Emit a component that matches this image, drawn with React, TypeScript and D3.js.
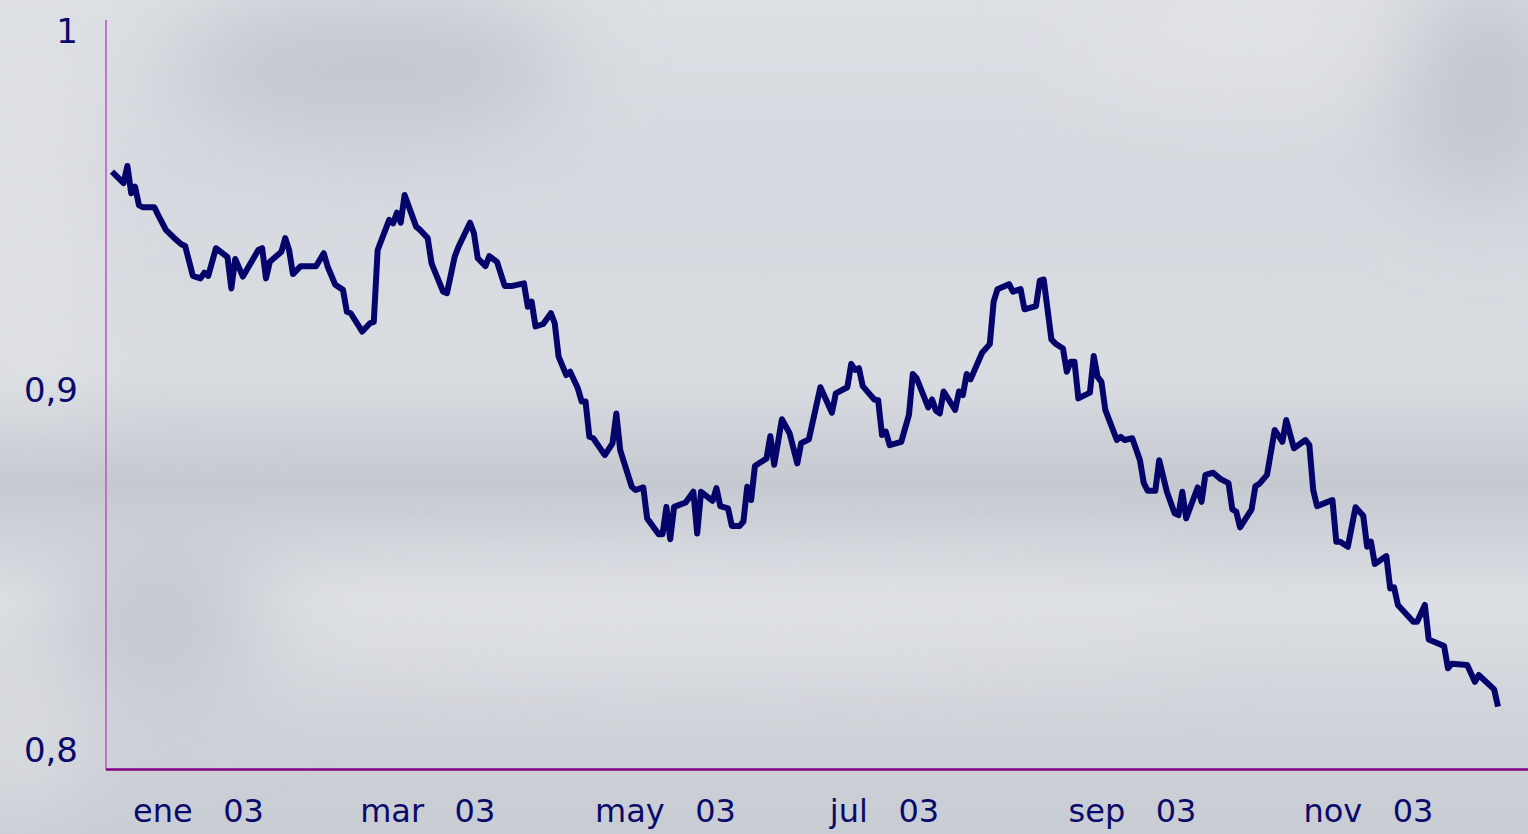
import React from 'react';
import * as d3 from 'd3';

// day of 2003 (0 = 1 Jan) for each quote
const days = [
  0, 3, 4, 5, 6, 7, 8, 11, 12, 14, 16, 18, 19, 21, 23, 24, 25, 27, 30, 31,
  32, 34, 38, 39, 40, 41, 44, 45, 46, 47, 49, 53, 55, 56, 58, 60, 61, 62, 65, 67,
  68, 69, 72, 73, 74, 75, 76, 79, 80, 82, 83, 86, 87, 89, 90, 93, 94, 95, 97, 98,
  100, 102, 104, 107, 108, 109, 110, 112, 114, 115, 116, 118, 119, 121, 122, 123, 124, 125, 128, 130,
  131, 132, 135, 136, 138, 139, 142, 143, 144, 145, 146, 149, 151, 152, 153, 156, 157, 158, 160, 161,
  163, 164, 165, 166, 167, 170, 171, 172, 174, 176, 178, 179, 181, 184, 187, 188, 191, 192, 193, 194,
  195, 198, 199, 200, 201, 202, 205, 207, 208, 209, 212, 213, 214, 215, 216, 219, 220, 221, 222, 223,
  226, 228, 229, 230, 233, 234, 236, 237, 240, 241, 242, 244, 245, 247, 248, 249, 250, 251, 254, 255,
  256, 257, 258, 261, 262, 263, 265, 267, 268, 269, 271, 272, 274, 276, 277, 278, 279, 282, 283, 284,
  286, 288, 290, 291, 292, 293, 296, 297, 298, 300, 302, 304, 305, 307, 310, 311, 312, 313, 317, 318,
  319, 321, 323, 325, 326, 327, 328, 331, 332, 333, 334, 338, 339, 341, 342, 346, 347, 348, 352, 354,
  355, 359, 360,
];

// exchange rate
const rates = [
  0.9607, 0.9575, 0.9623, 0.9547, 0.9565, 0.9514, 0.9508, 0.9508, 0.9486, 0.9445,
  0.9424, 0.9405, 0.9400, 0.9317, 0.9310, 0.9326, 0.9317, 0.9394, 0.9369, 0.9282,
  0.9364, 0.9315, 0.9389, 0.9394, 0.9310, 0.9356, 0.9384, 0.9422, 0.9389, 0.9322,
  0.9344, 0.9344, 0.9380, 0.9343, 0.9292, 0.9278, 0.9217, 0.9213, 0.9162, 0.9185,
  0.9189, 0.9389, 0.9473, 0.9463, 0.9493, 0.9465, 0.9542, 0.9454, 0.9445, 0.9422,
  0.9352, 0.9273, 0.9269, 0.9370, 0.9398, 0.9465, 0.9436, 0.9366, 0.9344, 0.9372,
  0.9356, 0.9289, 0.9289, 0.9296, 0.9231, 0.9245, 0.9176, 0.9183, 0.9213, 0.9185,
  0.9092, 0.9041, 0.9050, 0.9004, 0.8967, 0.8967, 0.8869, 0.8865, 0.8818, 0.8851,
  0.8934, 0.8832, 0.8730, 0.8721, 0.8728, 0.8642, 0.8598, 0.8598, 0.8674, 0.8584,
  0.8674, 0.8686, 0.8716, 0.8600, 0.8716, 0.8691, 0.8726, 0.8676, 0.8670, 0.8621,
  0.8621, 0.8633, 0.8730, 0.8693, 0.8788, 0.8809, 0.8871, 0.8791, 0.8918, 0.8879,
  0.8795, 0.8851, 0.8862, 0.9007, 0.8936, 0.8990, 0.9007, 0.9072, 0.9055, 0.9060,
  0.9010, 0.8973, 0.8971, 0.8874, 0.8883, 0.8846, 0.8855, 0.8930, 0.9044, 0.9032,
  0.8951, 0.8973, 0.8942, 0.8934, 0.8995, 0.8944, 0.8995, 0.8985, 0.9044, 0.9029,
  0.9103, 0.9127, 0.9245, 0.9280, 0.9294, 0.9273, 0.9280, 0.9224, 0.9233, 0.9304,
  0.9307, 0.9140, 0.9129, 0.9115, 0.9050, 0.9078, 0.9078, 0.8976, 0.8992, 0.9094,
  0.9036, 0.9022, 0.8944, 0.8860, 0.8869, 0.8860, 0.8865, 0.8804, 0.8740, 0.8719,
  0.8719, 0.8804, 0.8716, 0.8656, 0.8651, 0.8716, 0.8642, 0.8728, 0.8688, 0.8763,
  0.8769, 0.8751, 0.8740, 0.8667, 0.8661, 0.8617, 0.8667, 0.8732, 0.8738, 0.8763,
  0.8888, 0.8855, 0.8916, 0.8837, 0.8860, 0.8846, 0.8721, 0.8676, 0.8693, 0.8577,
  0.8577, 0.8563, 0.8673, 0.8649, 0.8563, 0.8577, 0.8515, 0.8537, 0.8447, 0.8450,
  0.8401, 0.8354, 0.8354, 0.8401, 0.8305, 0.8287, 0.8225, 0.8237, 0.8234, 0.8187,
  0.8206, 0.8166, 0.8118,
];

const labelMonths = [0, 2, 4, 6, 8, 10];
const monthNames = ['ene', 'mar', 'may', 'jul', 'sep', 'nov'];
const yearLabel = '03';
const yTicks = [0.8, 0.9, 1];
const yTickLabels = ['0,8', '0,9', '1'];

const W = 1528;
const H = 834;
const axisX = 106;
const axisTop = 20;
const axisBottom = 770;
const ink = '#0a0a6a';
const font = '"DejaVu Sans", sans-serif';

const App = () => {
  const x = d3.scaleUtc()
    .domain([new Date(Date.UTC(2003, 0, 1)), new Date(Date.UTC(2003, 11, 27))])
    .range([112, 1498]);

  const y = d3.scaleLinear()
    .domain([0.8, 1])
    .range([749, 30.5]);

  const points = days.map((d, i) => ({ date: new Date(Date.UTC(2003, 0, 1 + d)), value: rates[i] }));

  const linePath = d3.line<{ date: Date; value: number }>()
    .x(p => x(p.date))
    .y(p => y(p.value))(points) as string;

  return (
    <svg
      width={W}
      height={H}
      style={{ position: 'absolute', left: 0, top: 0, display: 'block' }}
    >
      <defs>
        <linearGradient id="bg" x1="0" y1="0" x2="0" y2="1">
          <stop offset="0" stopColor="#dcdfe4" />
          <stop offset="0.2" stopColor="#d6d9df" />
          <stop offset="0.45" stopColor="#d9dce1" />
          <stop offset="0.58" stopColor="#c5c9d0" />
          <stop offset="0.72" stopColor="#dcdfe4" />
          <stop offset="0.86" stopColor="#d0d3d9" />
          <stop offset="1" stopColor="#c8ccd3" />
        </linearGradient>
        <filter id="soft" x="-20%" y="-20%" width="140%" height="140%">
          <feGaussianBlur stdDeviation="45" />
        </filter>
      </defs>

      {/* background */}
      <rect width={W} height={H} fill="url(#bg)" />
      <g filter="url(#soft)">
        <ellipse cx={370} cy={70} rx={200} ry={70} fill="#c3c7ce" />
        <ellipse cx={1480} cy={90} rx={90} ry={110} fill="#c2c6cd" />
        <ellipse cx={1250} cy={40} rx={180} ry={50} fill="#e0e2e6" />
        <ellipse cx={30} cy={220} rx={50} ry={200} fill="#e0e2e6" />
        <ellipse cx={170} cy={620} rx={110} ry={90} fill="#c4c8cf" />
        <ellipse cx={700} cy={620} rx={500} ry={30} fill="#dfe1e5" />
        <ellipse cx={20} cy={740} rx={40} ry={80} fill="#dfe1e5" />
      </g>

      {/* axes */}
      <line x1={axisX} x2={axisX} y1={axisTop} y2={axisBottom} stroke="#b655c4" strokeWidth={1.5} />
      <line x1={axisX} x2={W} y1={axisBottom - 0.5} y2={axisBottom - 0.5} stroke="#840284" strokeWidth={2.5} />

      {/* y tick labels */}
      {yTicks.map((t, i) => (
        <text
          key={t}
          x={78}
          y={y(t) + 12.5}
          textAnchor="end"
          fontFamily={font}
          fontSize={34}
          fill={ink}
        >
          {yTickLabels[i]}
        </text>
      ))}

      {/* x labels */}
      {labelMonths.map((m, i) => (
        <text
          key={m}
          x={x(new Date(Date.UTC(2003, m, 1))) + 21}
          y={822}
          fontFamily={font}
          fontSize={32}
          fill={ink}
          style={{ whiteSpace: 'pre' }}
        >
          {`${monthNames[i]}   ${yearLabel}`}
        </text>
      ))}

      {/* series */}
      <path
        d={linePath}
        fill="none"
        stroke="#04046a"
        strokeWidth={6}
        strokeLinejoin="round"
        strokeLinecap="butt"
      />
    </svg>
  );
};

export default App;
